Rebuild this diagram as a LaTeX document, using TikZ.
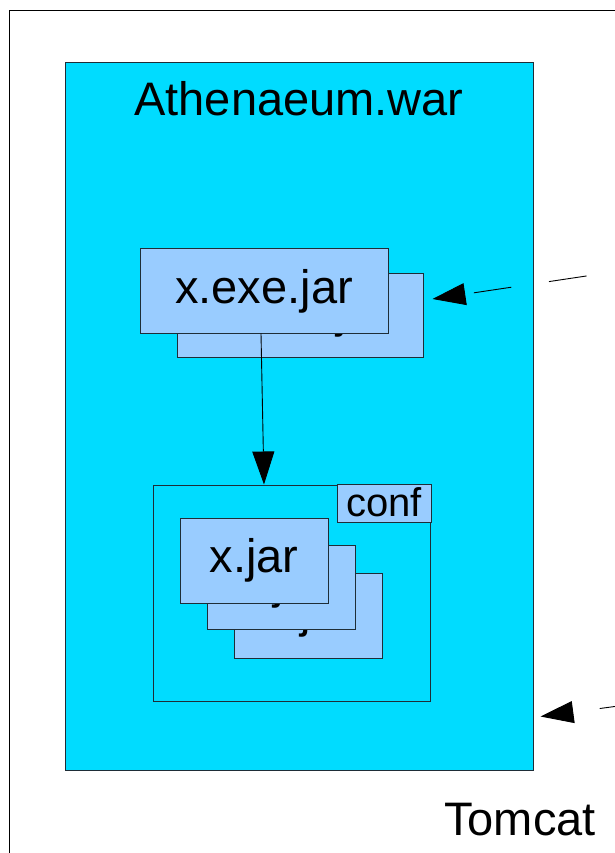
\documentclass[tikz,border=0pt]{standalone}
\usepackage{fontspec}
\setmainfont{Liberation Sans}
\usetikzlibrary{arrows.meta}
\definecolor{warcyan}{RGB}{0,220,255}
\definecolor{jarblue}{RGB}{153,204,255}
\definecolor{edge}{RGB}{30,45,55}
\tikzset{
  plain/.style={draw=edge, line width=1pt, inner sep=0pt},
  jarbox/.style={plain, fill=jarblue},
  bigtext/.style={font=\fontsize{47}{56}\selectfont, inner sep=0pt},
  conftext/.style={font=\fontsize{40}{48}\selectfont, inner sep=0pt},
  flow/.style={line width=0.9pt, -{Triangle[length=33pt,width=22pt]}},
  remote/.style={line width=0.9pt, {Triangle[length=33pt,width=22pt]}-, dash pattern=on 38pt off 38pt}
}
\begin{document}
\begin{tikzpicture}[x=1pt,y=-1pt]
\useasboundingbox (0,0) rectangle (615,853);
\clip (0,0) rectangle (615,853);
\fill[white] (0,0) rectangle (615,853);

% Tomcat container, running past the right and bottom edges
\node[plain, draw=black, minimum width=700pt, minimum height=900pt, anchor=north west] (tomcat) at (9,10) {};
\node[bigtext, anchor=base] (tomcatlabel) at (520,835) {Tomcat};

% the web archive
\node[plain, fill=warcyan, minimum width=468pt, minimum height=707pt] (war) at (299,416.5) {};
\node[bigtext, anchor=base] (warlabel) at (299,116) {Athenaeum.war};

% executable jars (stacked)
\node[jarbox, minimum width=246pt, minimum height=84pt] (exeback) at (300,315) {};
\node[bigtext, anchor=base] (exebacklabel) at ([yshift=-12.5pt]exeback.center) {x.exe.jar};
\node[jarbox, minimum width=248pt, minimum height=85pt] (exe) at (264,290.5) {};
\node[bigtext, anchor=base] (exelabel) at ([yshift=-12.5pt]exe.center) {x.exe.jar};

% configuration folder with library jars
\node[plain, minimum width=277pt, minimum height=216pt] (confwrap) at (291.5,593) {};
\node[jarbox, minimum width=94pt, minimum height=38pt] (conftab) at (384,503) {};
\node[conftext, anchor=base] (conflabel) at (384,516) {conf};

\node[jarbox, minimum width=148pt, minimum height=85pt] (jarc) at (308,615.5) {};
\node[bigtext, anchor=base] (jarclabel) at ([yshift=-11.5pt]jarc.center) {x.jar};
\node[jarbox, minimum width=148pt, minimum height=84pt] (jarb) at (281,587) {};
\node[bigtext, anchor=base] (jarblabel) at ([yshift=-11.5pt]jarb.center) {x.jar};
\node[jarbox, minimum width=148pt, minimum height=85pt] (jara) at (254,560.5) {};
\node[bigtext, anchor=base] (jaralabel) at ([yshift=-11.5pt]jara.center) {x.jar};

% connectors
\draw[flow] ([xshift=-3pt]exe.south) -- ([xshift=-27.5pt]confwrap.north);

\coordinate (remoteA) at (700,259);
\draw[remote, dash phase=67pt] ([shift={(9,-16)}]exeback.east) -- (remoteA);

\coordinate (remoteB) at (700,695);
\draw[remote, dash phase=49pt] ([shift={(7,-54)}]war.south east) -- (remoteB);
\end{tikzpicture}
\end{document}
